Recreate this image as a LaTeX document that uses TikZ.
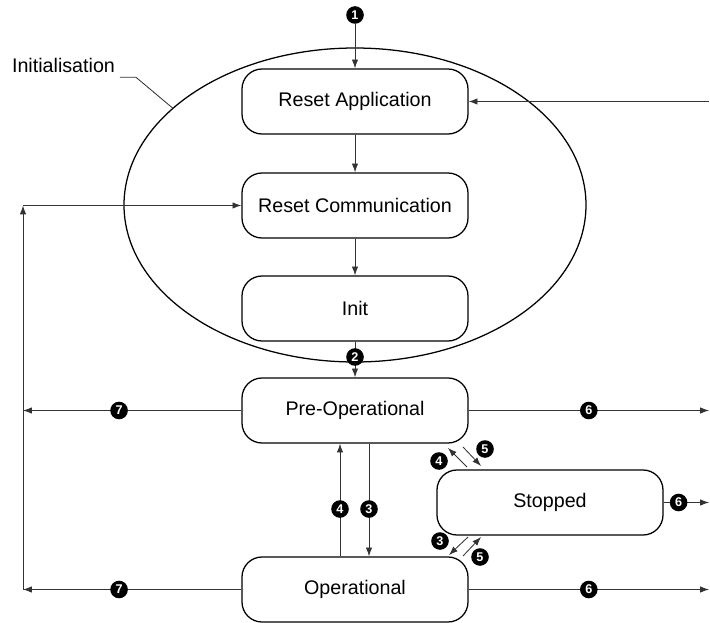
\documentclass[tikz,border=0pt]{standalone}
\usepackage{fontspec}
\setmainfont{Liberation Sans}
\usetikzlibrary{arrows.meta,shapes.geometric}

\begin{document}
\begin{tikzpicture}[x=0.25cm,y=0.25cm,
                    >={Latex[length=2.2mm,width=1.6mm]},
                    state/.style={draw=black,line width=0.9pt,rounded corners=0.5cm,
                                  minimum width=5.65cm,minimum height=1.625cm,
                                  font=\fontsize{14}{17}\selectfont},
                    zone/.style={draw=black,line width=0.9pt,shape=ellipse,
                                 minimum width=11.55cm,minimum height=7.85cm,inner sep=0pt},
                    badge/.style={fill=black,text=white,shape=circle,inner sep=0pt,
                                  minimum size=0.44cm,font=\fontsize{9}{9}\selectfont\bfseries},
                    link/.style={draw=black!80,line width=0.6pt}]
                    \useasboundingbox (0,0) rectangle (71,62.2);

                    \node[zone] (initzone) at (35.5,41.7) {};
                    \node[font=\fontsize{14}{17}\selectfont] (initlabel) at (6.35,55.7) {Initialisation};

                    \node[state] (resetapp) at (35.5,52.05) {Reset Application};
                    \node[state] (resetcom) at (35.5,41.65) {Reset Communication};
                    \node[state] (init) at (35.5,31.35) {Init};
                    \node[state] (preop) at (35.5,21.15) {Pre-Operational};
                    \node[state] (op) at (35.5,3.25) {Operational};
                    \node[state] (stopped) at (55,11.95) {Stopped};

                    \node[badge] (b1) at (35.5,60.7) {1};
                    \node[badge] (b4s) at (43.9,16.1) {4};
                    \node[badge] (b5s) at (48.5,17.3) {5};
                    \node[badge] (b3s) at (44.0,8.1) {3};
                    \node[badge] (b5o) at (48.0,6.5) {5};

                    \coordinate (inapp) at (70.9,52.05);
                    \coordinate (outpre) at (70.9,21.15);
                    \coordinate (outstop) at (70.9,11.95);
                    \coordinate (outop) at (70.9,3.25);
                    \coordinate (leftpre) at (2.3,21.15);
                    \coordinate (leftop) at (2.3,3.25);
                    \coordinate (lefttop) at (2.3,41.65);

                    \coordinate (stoptopre1) at (46.7,15.5);
                    \coordinate (stoptopre2) at (44.8,17.4);
                    \coordinate (pretostop1) at (46.3,17.5);
                    \coordinate (pretostop2) at (48.1,15.6);
                    \coordinate (stoptoop1) at (46.8,8.5);
                    \coordinate (stoptoop2) at (44.9,6.7);
                    \coordinate (optostop1) at (46.3,6.6);
                    \coordinate (optostop2) at (48.1,8.5);

                    \draw[link] (initlabel.south east) -- ++(1.6,0) -- (initzone.152);

                    \draw[link,->] (b1) -- (resetapp);
                    \draw[link,->] (resetapp) -- (resetcom);
                    \draw[link,->] (resetcom) -- (init);
                    \draw[link,->] (init) -- node[badge,pos=0.43] {2} (preop);
                    \draw[link,->] (inapp) -- (resetapp);

                    \draw[link,->] (preop) -- node[badge] {6} (outpre);
                    \draw[link,->] (op) -- node[badge] {6} (outop);
                    \draw[link,->] (stopped) -- node[badge,pos=0.33] {6} (outstop);
                    \draw[link,->] (preop) -- node[badge,pos=0.56] {7} (leftpre);
                    \draw[link,->] (op) -- node[badge,pos=0.56] {7} (leftop);
                    \draw[link,->] (leftop) -- (lefttop);
                    \draw[link,->] (lefttop) -- (resetcom);

                    \draw[link,->] ([xshift=-0.375cm]op.north) -- node[badge,pos=0.42] {4} ([xshift=-0.375cm]preop.south);
                    \draw[link,->] ([xshift=0.35cm]preop.south) -- node[badge,pos=0.58] {3} ([xshift=0.35cm]op.north);

                    \draw[link,->] (stoptopre1) -- (stoptopre2);
                    \draw[link,->] (pretostop1) -- (pretostop2);
                    \draw[link,->] (stoptoop1) -- (stoptoop2);
                    \draw[link,->] (optostop1) -- (optostop2);
                 \end{tikzpicture}
\end{document}
